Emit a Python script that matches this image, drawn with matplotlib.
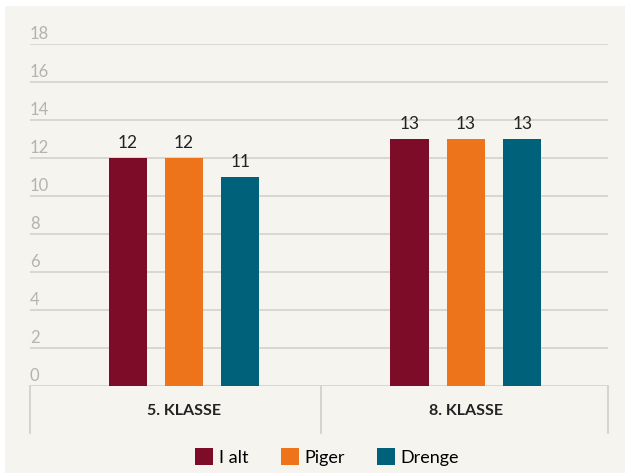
import matplotlib
matplotlib.use("Agg")
import matplotlib.pyplot as plt
from matplotlib.patches import Rectangle, Patch
from matplotlib.lines import Line2D

# data
groups = ["5. KLASSE", "8. KLASSE"]
series = ["I alt", "Piger", "Drenge"]
i_alt = [12, 13]
piger = [12, 13]
drenge = [11, 13]
yticks = [0, 2, 4, 6, 8, 10, 12, 14, 16, 18]

colors = ["#7D0C28", "#EE741C", "#00617B"]
bg = "#F5F4EF"
grid_col = "#D3D2CD"
tick_col = "#B3B3B0"

plt.rcParams["font.family"] = ["Lato", "DejaVu Sans"]

W, H = 630, 473
fig = plt.figure(figsize=(W / 100, H / 100), dpi=100)
fig.patch.set_facecolor("white")
fig.patches.append(Rectangle((5 / W, 0), 620 / W, 1 - 6 / H, transform=fig.transFigure,
                             facecolor=bg, edgecolor="none", zorder=-10))

ax = fig.add_axes([30 / W, 1 - 386 / H, 578 / W, (386 - 44) / H])
ax.set_facecolor("none")
ax.set_xlim(-0.546, 1.504)
ax.set_ylim(0, 18)
for s in ax.spines.values():
    s.set_visible(False)
ax.set_xticks([])
ax.set_yticks([])

for t in yticks:
    ax.axhline(t, color=grid_col, lw=1.2, zorder=0)
    ax.text(0.0, t + 0.08, str(t), transform=ax.get_yaxis_transform(), ha="left", va="bottom",
            fontsize=12, color=tick_col)

width = 0.135
offs = [-0.2, 0, 0.2]
for k, (vals, c) in enumerate(zip([i_alt, piger, drenge], colors)):
    xs = [g + offs[k] for g in range(len(groups))]
    ax.bar(xs, vals, width=width, color=c, zorder=2)
    for x, v in zip(xs, vals):
        ax.text(x, v + 0.35, str(v), ha="center", va="bottom", fontsize=12.5, color="#222222")

# category box below axis
div = 0.486
lc = "#CFCECA"
for x in [-0.546, div, 1.504]:
    ax.add_line(Line2D([x, x], [0, -2.47], color=lc, lw=1.2, clip_on=False))
for g, name in enumerate(groups):
    ax.text(g, -1.32, name, ha="center", va="center", fontsize=11.5, fontweight="bold", color="#222222")

handles = [Patch(facecolor=c, edgecolor="none") for c in colors]
fig.legend(handles, series, loc="center", bbox_to_anchor=(327 / W, 1 - 457 / H), ncol=3,
           frameon=False, fontsize=13, handlelength=1.0, handleheight=1.1, handletextpad=0.3,
           columnspacing=1.8)

fig.savefig("out.png", dpi=100, facecolor=fig.get_facecolor())
